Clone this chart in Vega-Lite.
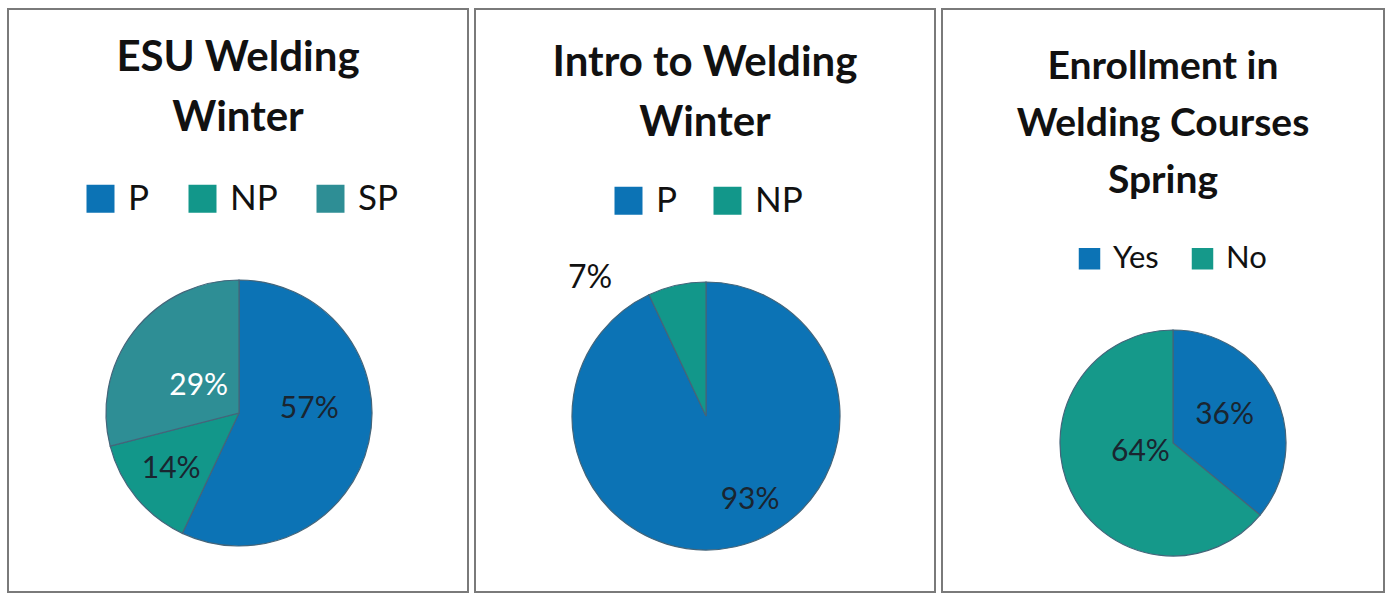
{
  "$schema": "https://vega.github.io/schema/vega-lite/v6.json",
  "background": "white",
  "padding": {"left": 7, "top": 8, "right": 0, "bottom": 0},
  "spacing": 5,
  "datasets": {
    "esu": [{"cat": "P", "pct": 0.57, "k": 1}, {"cat": "NP", "pct": 0.14, "k": 2}, {"cat": "SP", "pct": 0.29, "k": 3}],
    "intro": [{"cat": "P", "pct": 0.93, "k": 1}, {"cat": "NP", "pct": 0.07, "k": 2}],
    "enroll": [{"cat": "Yes", "pct": 0.36, "k": 1}, {"cat": "No", "pct": 0.64, "k": 2}]
  },
  "config": {
    "view": {"stroke": "#7a7a7a", "strokeWidth": 2},
    "font": "Lato",
    "title": {"font": "Lato", "fontWeight": "bold", "fontSize": 42, "color": "#111111", "anchor": "middle", "lineHeight": 60},
    "legend": {"orient": "none", "direction": "horizontal", "symbolType": "square", "labelFont": "Lato", "labelColor": "#111111", "symbolStrokeWidth": 0, "symbolOpacity": 1}
  },
  "resolve": {"scale": {"color": "independent", "theta": "independent"}, "legend": {"color": "independent"}},
  "hconcat": [
    {
      "width": 460, "height": 583,
      "view": {"stroke": "#7a7a7a", "strokeWidth": 2, "fill": "white"},
      "title": {"text": ["ESU Welding", "Winter"], "offset": -131},
      "data": {"name": "esu"},
      "encoding": {
        "theta": {"field": "pct", "type": "quantitative", "stack": true},
        "order": {"field": "k", "type": "quantitative"}
      },
      "layer": [
        {
          "mark": {"type": "arc", "radius": 133, "x": 231, "y": 404, "stroke": "#44657a", "strokeWidth": 1.2},
          "encoding": {
            "color": {"field": "cat", "type": "nominal", "sort": ["P", "NP", "SP"],
              "scale": {"domain": ["P", "NP", "SP"], "range": ["#0c73b5", "#12978a", "#2e8e95"]},
              "legend": {"title": null, "legendX": 75, "legendY": 172, "symbolSize": 784, "labelFontSize": 35, "labelOffset": 10, "columnPadding": 35}}
          }
        },
        {
          "mark": {"type": "text", "radius": 51, "x": 231, "y": 404, "fontSize": 30, "color": "white", "dy": 4},
          "encoding": {"text": {"condition": {"test": "datum.cat === 'SP'", "field": "pct", "type": "quantitative", "format": ".0%"}, "value": ""}}
        },
        {
          "mark": {"type": "text", "radius": 72, "x": 231, "y": 404, "fontSize": 30, "color": "#1a2530", "dy": -20},
          "encoding": {"text": {"condition": {"test": "datum.cat === 'P'", "field": "pct", "type": "quantitative", "format": ".0%"}, "value": ""}}
        },
        {
          "mark": {"type": "text", "radius": 88, "x": 231, "y": 404, "fontSize": 30, "color": "#1a2530"},
          "encoding": {"text": {"condition": {"test": "datum.cat === 'NP'", "field": "pct", "type": "quantitative", "format": ".0%"}, "value": ""}}
        }
      ]
    },
    {
      "width": 460, "height": 583,
      "view": {"stroke": "#7a7a7a", "strokeWidth": 2, "fill": "white"},
      "title": {"text": ["Intro to Welding", "Winter"], "offset": -136},
      "data": {"name": "intro"},
      "encoding": {
        "theta": {"field": "pct", "type": "quantitative", "stack": true},
        "order": {"field": "k", "type": "quantitative"}
      },
      "layer": [
        {
          "mark": {"type": "arc", "radius": 134, "x": 231, "y": 407, "stroke": "#44657a", "strokeWidth": 1.2},
          "encoding": {
            "color": {"field": "cat", "type": "nominal", "sort": ["P", "NP"],
              "scale": {"domain": ["P", "NP"], "range": ["#0c73b5", "#12978a"]},
              "legend": {"title": null, "legendX": 136, "legendY": 174, "symbolSize": 784, "labelFontSize": 35, "labelOffset": 10, "columnPadding": 32}}
          }
        },
        {
          "mark": {"type": "text", "radius": 92, "x": 231, "y": 407, "fontSize": 30, "color": "#1a2530", "dx": 24, "dy": -6},
          "encoding": {"text": {"condition": {"test": "datum.cat === 'P'", "field": "pct", "type": "quantitative", "format": ".0%"}, "value": ""}}
        },
        {
          "mark": {"type": "text", "radius": 141, "x": 231, "y": 407, "fontSize": 32, "color": "#111111", "align": "right", "dx": -63},
          "encoding": {"text": {"condition": {"test": "datum.cat === 'NP'", "field": "pct", "type": "quantitative", "format": ".0%"}, "value": ""}}
        }
      ]
    },
    {
      "width": 442, "height": 583,
      "view": {"stroke": "#7a7a7a", "strokeWidth": 2, "fill": "white"},
      "title": {"text": ["Enrollment in", "Welding Courses", "Spring"], "offset": -192, "fontSize": 39, "lineHeight": 57},
      "data": {"name": "enroll"},
      "encoding": {
        "theta": {"field": "pct", "type": "quantitative", "stack": true},
        "order": {"field": "k", "type": "quantitative"}
      },
      "layer": [
        {
          "mark": {"type": "arc", "radius": 113, "x": 231, "y": 434, "stroke": "#44657a", "strokeWidth": 1.2},
          "encoding": {
            "color": {"field": "cat", "type": "nominal", "sort": ["Yes", "No"],
              "scale": {"domain": ["Yes", "No"], "range": ["#0c73b5", "#15998a"]},
              "legend": {"title": null, "legendX": 132, "legendY": 234, "symbolSize": 462, "labelFontSize": 31, "labelOffset": 8, "columnPadding": 28}}
          }
        },
        {
          "mark": {"type": "text", "radius": 57, "x": 231, "y": 434, "fontSize": 30, "color": "#1a2530", "dy": -4},
          "encoding": {"text": {"condition": {"test": "datum.cat === 'Yes'", "field": "pct", "type": "quantitative", "format": ".0%"}, "value": ""}}
        },
        {
          "mark": {"type": "text", "radius": 36, "x": 231, "y": 434, "fontSize": 30, "color": "#1a2530", "dy": -6},
          "encoding": {"text": {"condition": {"test": "datum.cat === 'No'", "field": "pct", "type": "quantitative", "format": ".0%"}, "value": ""}}
        }
      ]
    }
  ]
}
